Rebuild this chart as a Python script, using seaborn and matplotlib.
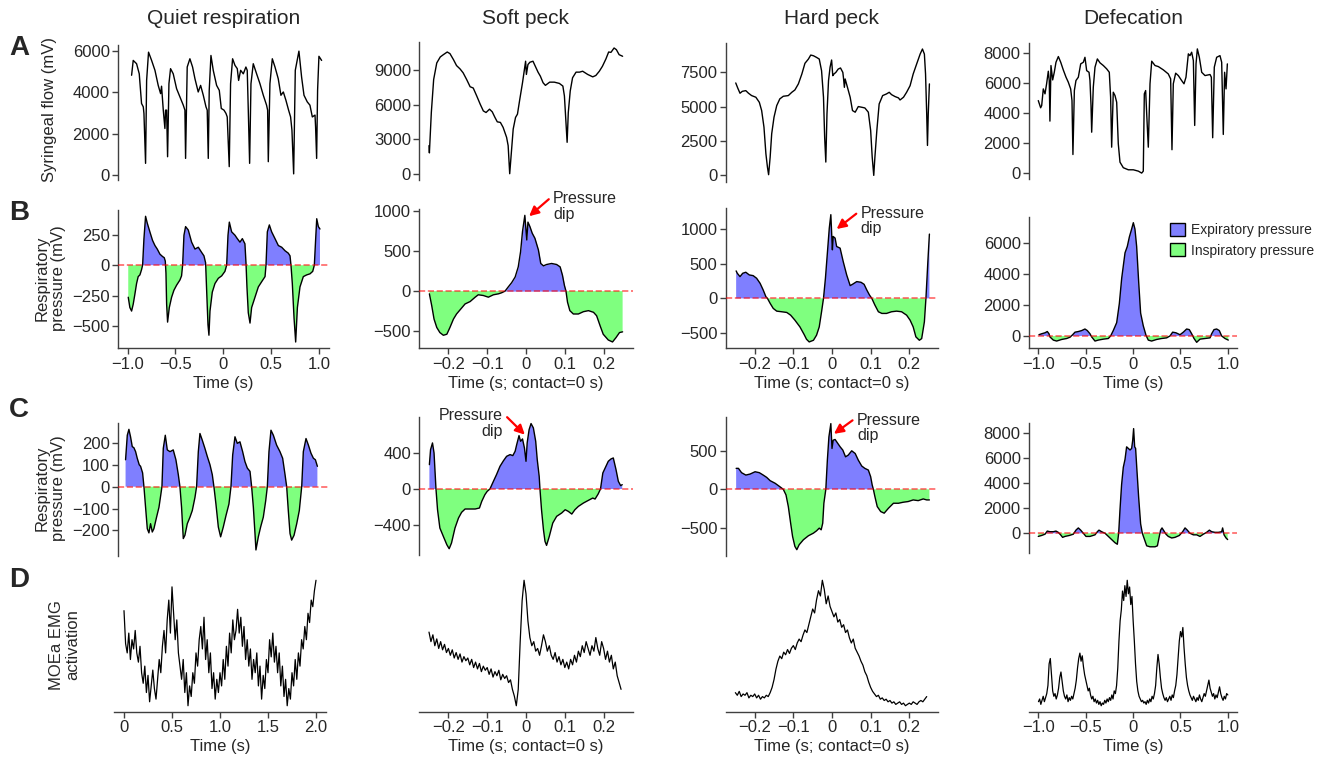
import numpy as np
import matplotlib
matplotlib.use("Agg")
import matplotlib.pyplot as plt
from matplotlib.patches import Patch
import seaborn as sns

# ---------------- data ----------------
# Row A: syringeal flow (mV)
quiet_flow_t = [-0.958, -0.941, -0.906, -0.878, -0.854, -0.836, -0.829, -0.812, -0.801, -0.781, -0.749, -0.714,
                -0.680, -0.655, -0.645, -0.627, -0.610, -0.603, -0.592, -0.582, -0.568, -0.551, -0.523, -0.488,
                -0.453, -0.418, -0.401, -0.394, -0.377, -0.349, -0.321, -0.296, -0.262, -0.237, -0.209, -0.181,
                -0.168, -0.157, -0.147, -0.129, -0.105, -0.070, -0.042, -0.021, 0.007, 0.028, 0.041, 0.062,
                0.076, 0.097, 0.122, 0.146, 0.160, 0.181, 0.209, 0.236, 0.250, 0.261, 0.275, 0.289, 0.313,
                0.348, 0.383, 0.418, 0.452, 0.463, 0.470, 0.487, 0.512, 0.540, 0.574, 0.602, 0.627, 0.654,
                0.682, 0.703, 0.717, 0.735, 0.752, 0.790, 0.818, 0.843, 0.877, 0.905, 0.930, 0.958, 0.964,
                0.975, 0.985, 0.999, 1.027]
quiet_flow_mv = [4830, 5550, 5390, 4900, 3460, 3300, 2980, 560, 4580, 5950, 5550, 5070,
                 4340, 3940, 4300, 3140, 2250, 3140, 3140, 880, 4420, 5150, 4900, 4180,
                 3780, 3380, 3140, 800, 5230, 5630, 5230, 4660, 4020, 4340, 3860, 3300,
                 3140, 800, 4100, 5790, 5070, 4340, 4100, 3220, 3140, 2980, 2810, 400,
                 4420, 5630, 5310, 5150, 4580, 5070, 4900, 5230, 5070, 3140, 560, 4420, 5390,
                 4900, 4420, 3860, 3380, 3140, 640, 4420, 5630, 5230, 4660, 3860, 4020, 3620,
                 3140, 2810, 2170, 50, 5070, 6000, 4740, 3860, 3540, 3380, 2810, 2900, 2330,
                 800, 4100, 5750, 5550]

soft_flow_t = [-0.250, -0.249, -0.244, -0.238, -0.230, -0.221, -0.213, -0.203, -0.196, -0.187, -0.179, -0.170,
               -0.162, -0.153, -0.144, -0.136, -0.127, -0.118, -0.110, -0.103, -0.094, -0.087, -0.080, -0.074,
               -0.066, -0.059, -0.050, -0.046, -0.042, -0.037, -0.033, -0.027, -0.022, -0.016, -0.009, -0.001,
               0.001, 0.005, 0.010, 0.018, 0.024, 0.031, 0.037, 0.044, 0.050, 0.061, 0.073, 0.086, 0.095,
               0.099, 0.103, 0.106, 0.109, 0.114, 0.120, 0.129, 0.138, 0.146, 0.159, 0.172, 0.180, 0.189,
               0.197, 0.206, 0.213, 0.219, 0.227, 0.233, 0.240, 0.249]
soft_flow_mv = [2440, 1810, 5320, 8190, 9630, 10150, 10350, 10580, 10440, 9920, 9400, 9110,
                8770, 8190, 7560, 7450, 6760, 6040, 5460, 5320, 5610, 5380, 4890, 4510,
                4460, 4030, 3160, 2440, 0, 2160, 3880, 4890, 5180, 6470, 7910, 9780,
                8630, 9490, 9690, 9780, 9340, 8830, 8480, 7910, 7680, 7960, 7960, 7850, 7620,
                6760, 4460, 2730, 5320, 7190, 8340, 8830, 8830, 8910, 8630, 8420, 8540, 8910,
                9340, 9980, 10580, 10550, 10930, 10780, 10350, 10210]

hard_flow_t = [-0.249, -0.244, -0.238, -0.232, -0.223, -0.216, -0.208, -0.197, -0.188, -0.182, -0.176, -0.171,
               -0.167, -0.164, -0.160, -0.156, -0.150, -0.143, -0.135, -0.126, -0.113, -0.104, -0.096, -0.087,
               -0.078, -0.070, -0.061, -0.055, -0.048, -0.040, -0.033, -0.027, -0.022, -0.019, -0.016, -0.013,
               -0.009, -0.005, -0.001, 0.002, 0.005, 0.010, 0.016, 0.022, 0.028, 0.030, 0.032, 0.034, 0.040,
               0.047, 0.053, 0.060, 0.068, 0.077, 0.085, 0.094, 0.100, 0.104, 0.108, 0.111, 0.116, 0.122,
               0.131, 0.141, 0.148, 0.154, 0.163, 0.172, 0.176, 0.185, 0.193, 0.202, 0.210, 0.219, 0.228,
               0.234, 0.239, 0.242, 0.245, 0.247, 0.249, 0.252]
hard_flow_mv = [6730, 6370, 5980, 6120, 6170, 5980, 5810, 5690, 5320, 4720, 3510, 1570,
                600, 50, 1330, 3030, 4240, 5080, 5570, 5760, 5810, 6050, 6220, 6660,
                7380, 8160, 8470, 8760, 8710, 8590, 8470, 7620, 5690, 2780, 970, 4480,
                6900, 7870, 8400, 7260, 7380, 7500, 7740, 7820, 7500, 7020, 6410, 7020, 6410,
                5690, 4720, 4600, 5010, 4960, 4910, 4600, 3270, 1330, 0, 1330, 3270, 5200,
                5810, 5930, 6050, 5880, 5740, 5640, 5490, 5690, 6050, 6530, 7380, 8110, 8830,
                9200, 8830, 7380, 4480, 2180, 4480, 6660]

defec_flow_t = [-1.002, -0.977, -0.966, -0.949, -0.931, -0.914, -0.896, -0.886, -0.879, -0.868, -0.850, -0.833,
                -0.815, -0.790, -0.765, -0.738, -0.709, -0.685, -0.660, -0.646, -0.636, -0.621, -0.604, -0.579,
                -0.554, -0.526, -0.509, -0.491, -0.466, -0.456, -0.445, -0.438, -0.421, -0.403, -0.378, -0.350,
                -0.315, -0.280, -0.252, -0.238, -0.227, -0.210, -0.192, -0.174, -0.157, -0.139, -0.104, -0.051,
                0.002, 0.055, 0.090, 0.107, 0.118, 0.132, 0.143, 0.160, 0.178, 0.196, 0.231, 0.266, 0.319,
                0.371, 0.396, 0.410, 0.424, 0.449, 0.477, 0.512, 0.537, 0.558, 0.583, 0.600, 0.618, 0.636,
                0.650, 0.664, 0.678, 0.699, 0.724, 0.759, 0.812, 0.826, 0.840, 0.857, 0.882, 0.917, 0.935,
                0.952, 0.966, 0.981, 0.995]
defec_flow_mv = [4840, 4360, 4510, 5620, 5290, 5960, 6800, 6180, 3470, 7180, 6220, 6730,
                 7400, 7780, 7400, 6890, 6400, 6070, 5620, 4840, 1240, 5510, 6180, 6400,
                 7290, 7400, 7730, 6840, 6730, 6180, 4510, 2730, 5730, 7070, 7620, 7360,
                 7180, 6960, 6730, 5070, 1730, 5400, 5180, 4730, 1960, 730, 360, 220,
                 220, 130, 0, 130, 5290, 5510, 3960, 1730, 5960, 7470, 7180, 7110, 6890,
                 6620, 6290, 1560, 5960, 6670, 6510, 6180, 5960, 6400, 7960, 7840, 8070, 7510,
                 3180, 7290, 8290, 7730, 6730, 6510, 6580, 6400, 2360, 7070, 7730, 7840, 7400,
                 2580, 6730, 5620, 7290]

# Row B: respiratory pressure (mV)
quiet_pb_t = [-0.993, -0.976, -0.958, -0.941, -0.923, -0.906, -0.889, -0.871, -0.854, -0.843, -0.829, -0.812,
              -0.794, -0.767, -0.739, -0.714, -0.690, -0.662, -0.634, -0.617, -0.606, -0.599, -0.592, -0.582,
              -0.564, -0.540, -0.516, -0.488, -0.453, -0.436, -0.425, -0.411, -0.394, -0.366, -0.331, -0.296,
              -0.261, -0.226, -0.202, -0.185, -0.174, -0.160, -0.150, -0.139, -0.115, -0.087, -0.052, -0.017,
              0.017, 0.035, 0.049, 0.063, 0.087, 0.122, 0.146, 0.174, 0.199, 0.226, 0.237, 0.247, 0.261,
              0.279, 0.296, 0.331, 0.366, 0.401, 0.436, 0.446, 0.460, 0.481, 0.505, 0.540, 0.575, 0.610,
              0.645, 0.679, 0.697, 0.707, 0.721, 0.739, 0.756, 0.774, 0.801, 0.836, 0.871, 0.906, 0.934,
              0.951, 0.965, 0.976, 0.993, 1.010]
quiet_pb_mv = [-264, -349, -378, -321, -236, -151, -94, -80, -37, 0, 219, 403,
               346, 275, 204, 162, 133, 91, 71, 62, 34, -65, -321, -469,
               -349, -264, -207, -165, -122, -88, 0, 247, 318, 290, 190, 133,
               148, 105, 77, 20, -207, -491, -577, -378, -222, -151, -108, -88,
               -51, 0, 247, 355, 275, 247, 219, 190, 219, 176, 20, -179, -392,
               -477, -349, -264, -179, -136, -94, 0, 275, 332, 275, 219, 162, 148,
               119, 99, 77, 0, -151, -435, -633, -349, -179, -94, -80, -71, -51,
               0, 219, 383, 318, 298]

soft_pb_t = [-0.249, -0.243, -0.237, -0.230, -0.222, -0.213, -0.204, -0.196, -0.187, -0.179, -0.168, -0.157,
             -0.144, -0.131, -0.123, -0.110, -0.097, -0.084, -0.071, -0.063, -0.054, -0.046, -0.037, -0.028,
             -0.020, -0.014, -0.009, -0.003, 0.002, 0.005, 0.010, 0.016, 0.023, 0.032, 0.038, 0.045, 0.053,
             0.066, 0.079, 0.088, 0.094, 0.099, 0.103, 0.107, 0.113, 0.122, 0.135, 0.148, 0.161, 0.174,
             0.182, 0.191, 0.199, 0.212, 0.223, 0.232, 0.241, 0.249]
soft_pb_mv = [-34, -182, -351, -456, -520, -554, -541, -456, -351, -287, -224, -161,
              -131, -76, -46, -55, -76, -46, -34, -21, 0, 51, 106, 177,
              304, 494, 748, 951, 642, 866, 811, 727, 663, 516, 347, 317, 334,
              347, 334, 304, 199, 72, 0, -139, -245, -287, -287, -258, -245, -266,
              -309, -435, -541, -613, -638, -583, -520, -511]

hard_pb_t = [-0.248, -0.245, -0.238, -0.231, -0.223, -0.214, -0.204, -0.195, -0.186, -0.178, -0.171, -0.167,
             -0.160, -0.152, -0.143, -0.130, -0.117, -0.107, -0.096, -0.083, -0.072, -0.066, -0.059, -0.048,
             -0.040, -0.033, -0.027, -0.022, -0.017, -0.012, -0.007, -0.003, 0.001, 0.003, 0.008, 0.012,
             0.021, 0.029, 0.038, 0.047, 0.053, 0.064, 0.075, 0.083, 0.090, 0.097, 0.103, 0.111, 0.120,
             0.129, 0.141, 0.154, 0.167, 0.180, 0.193, 0.202, 0.210, 0.217, 0.226, 0.232, 0.239, 0.243,
             0.248, 0.252]
hard_pb_mv = [396, 362, 314, 362, 377, 338, 328, 290, 217, 121, 24, 0,
              -72, -145, -184, -193, -203, -242, -314, -411, -522, -589, -628, -604,
              -531, -411, -193, 0, 290, 652, 1014, 1207, 700, 893, 869, 748,
              724, 531, 338, 184, 203, 242, 232, 203, 121, 48, 0, -97, -193,
              -217, -217, -193, -184, -193, -242, -314, -411, -555, -604, -580, -338, 0,
              531, 927]

defec_pb_t = [-0.995, -0.966, -0.931, -0.907, -0.889, -0.879, -0.843, -0.808, -0.755, -0.702, -0.667, -0.639,
              -0.614, -0.579, -0.544, -0.509, -0.484, -0.456, -0.438, -0.403, -0.368, -0.315, -0.262, -0.238,
              -0.210, -0.174, -0.146, -0.121, -0.086, -0.062, -0.040, -0.016, 0.002, 0.019, 0.037, 0.058,
              0.079, 0.107, 0.136, 0.160, 0.195, 0.248, 0.301, 0.354, 0.389, 0.417, 0.452, 0.495, 0.530,
              0.565, 0.593, 0.618, 0.643, 0.671, 0.706, 0.759, 0.812, 0.829, 0.854, 0.882, 0.910, 0.935,
              0.970, 1.005]
defec_pb_mv = [82, 144, 206, 288, 144, -62, -267, -329, -226, -164, -82, 82,
               247, 288, 349, 452, 349, 144, -62, -329, -267, -206, -164, 0,
               349, 863, 2096, 3740, 5384, 5795, 6412, 6925, 7336, 6925, 5795, 3535,
               1480, 658, 41, -267, -329, -226, -164, -123, 0, 247, 206, 82, 247,
               452, 411, 144, -164, -411, -206, -164, -123, 144, 411, 452, 349, 0,
               -164, -267]

# Row C: respiratory pressure, second bird (mV)
quiet_pc_t = [-1.021, -1.003, -0.986, -0.969, -0.951, -0.934, -0.916, -0.899, -0.878, -0.864, -0.843, -0.829,
              -0.812, -0.794, -0.777, -0.760, -0.742, -0.725, -0.697, -0.672, -0.652, -0.641, -0.627, -0.606,
              -0.585, -0.557, -0.523, -0.495, -0.470, -0.453, -0.436, -0.418, -0.401, -0.376, -0.348, -0.324,
              -0.296, -0.279, -0.261, -0.244, -0.220, -0.192, -0.167, -0.139, -0.115, -0.098, -0.077, -0.052,
              -0.028, 0.000, 0.028, 0.059, 0.080, 0.098, 0.122, 0.146, 0.174, 0.202, 0.226, 0.251, 0.279,
              0.296, 0.314, 0.331, 0.341, 0.366, 0.390, 0.418, 0.443, 0.460, 0.477, 0.498, 0.523, 0.557,
              0.592, 0.620, 0.645, 0.662, 0.679, 0.697, 0.714, 0.739, 0.767, 0.794, 0.819, 0.836, 0.864,
              0.889, 0.916, 0.941, 0.962, 0.983]
quiet_pc_mv = [123, 235, 262, 228, 183, 178, 160, 130, 100, 93, 63, 0,
               -94, -192, -211, -169, -207, -192, -139, -94, -34, 0, 175, 235,
               168, 160, 168, 123, 55, 0, -94, -237, -222, -169, -139, -109,
               -49, 0, 160, 243, 213, 175, 138, 100, 55, 0, -79, -184,
               -229, -184, -132, -79, 0, 145, 228, 198, 205, 160, 115, 85, 70,
               0, -94, -214, -289, -229, -184, -139, -64, 0, 160, 258, 235, 190,
               160, 130, 55, 0, -109, -214, -244, -222, -169, -109, 0, 160, 220,
               190, 153, 130, 123, 93]

soft_pc_t = [-0.249, -0.246, -0.241, -0.237, -0.232, -0.228, -0.222, -0.213, -0.204, -0.198, -0.192, -0.183,
             -0.174, -0.166, -0.157, -0.144, -0.131, -0.120, -0.114, -0.106, -0.100, -0.093, -0.084, -0.076,
             -0.067, -0.058, -0.050, -0.041, -0.034, -0.028, -0.024, -0.018, -0.014, -0.009, -0.004, 0.000,
             0.003, 0.008, 0.013, 0.019, 0.025, 0.029, 0.034, 0.036, 0.040, 0.045, 0.049, 0.053, 0.060,
             0.069, 0.079, 0.092, 0.101, 0.109, 0.118, 0.126, 0.135, 0.148, 0.161, 0.172, 0.178, 0.186,
             0.192, 0.198, 0.204, 0.212, 0.219, 0.225, 0.232, 0.238, 0.244, 0.248]
soft_pc_mv = [269, 435, 509, 398, 0, -229, -431, -524, -616, -660, -597, -431,
              -321, -258, -221, -221, -221, -210, -136, -63, -26, 0, 85, 159,
              251, 313, 361, 380, 369, 417, 490, 590, 527, 553, 453, 306,
              509, 656, 723, 675, 527, 324, 140, 0, -229, -450, -579, -623, -524,
              -376, -302, -265, -229, -247, -277, -229, -192, -155, -125, -100, -111, -55,
              0, 177, 232, 306, 332, 343, 214, 85, 37, 48]

hard_pc_t = [-0.248, -0.242, -0.234, -0.223, -0.212, -0.199, -0.188, -0.178, -0.169, -0.160, -0.147, -0.135,
             -0.126, -0.119, -0.113, -0.107, -0.102, -0.096, -0.091, -0.085, -0.074, -0.061, -0.048, -0.040,
             -0.033, -0.028, -0.024, -0.021, -0.016, -0.012, -0.008, -0.003, 0.000, 0.003, 0.008, 0.014,
             0.021, 0.028, 0.035, 0.042, 0.051, 0.060, 0.068, 0.077, 0.085, 0.094, 0.100, 0.104, 0.107,
             0.111, 0.117, 0.126, 0.135, 0.146, 0.159, 0.172, 0.184, 0.197, 0.210, 0.223, 0.236, 0.245,
             0.252]
hard_pc_mv = [272, 272, 216, 185, 198, 228, 216, 185, 155, 112, 78, 34,
              0, -73, -224, -440, -612, -741, -784, -720, -655, -603, -569, -539,
              -504, -526, -440, -181, 0, 379, 681, 853, 530, 638, 647, 603,
              552, 509, 422, 444, 500, 465, 379, 302, 272, 250, 164, 56, 0,
              -95, -224, -289, -310, -246, -181, -181, -168, -159, -138, -147, -125, -138,
              -138]

defec_pc_t = [-1.002, -0.967, -0.931, -0.907, -0.879, -0.843, -0.815, -0.791, -0.766, -0.745, -0.720, -0.674,
              -0.632, -0.604, -0.579, -0.554, -0.526, -0.498, -0.456, -0.403, -0.378, -0.361, -0.333, -0.297,
              -0.262, -0.227, -0.192, -0.167, -0.153, -0.139, -0.122, -0.104, -0.086, -0.069, -0.051, -0.033,
              -0.016, -0.005, 0.005, 0.016, 0.026, 0.037, 0.058, 0.079, 0.097, 0.114, 0.143, 0.178, 0.231,
              0.256, 0.276, 0.290, 0.305, 0.326, 0.347, 0.371, 0.407, 0.442, 0.488, 0.523, 0.548, 0.572,
              0.600, 0.636, 0.671, 0.706, 0.741, 0.776, 0.805, 0.829, 0.864, 0.900, 0.935, 0.945, 0.960,
              0.981, 0.998]
defec_pc_mv = [-252, -176, -75, 176, 126, 126, 176, 75, -126, -327, -252, -176,
               -75, 252, 428, 252, 0, -252, -252, -126, 126, 252, 126, 0,
               -252, -503, -755, -880, 0, 1887, 3900, 5284, 5913, 6919, 6793, 6667,
               6793, 7422, 8378, 6919, 6793, 5409, 2893, 755, 0, -377, -1006, -1082, -1082,
               -1006, -252, 252, 428, 176, -75, -252, -377, -327, -176, 126, 428, 252,
               0, -126, -126, -252, -75, 75, 252, 126, 75, 75, 126, 428, -126,
               -377, -503]

# Row D: MOEa EMG activation (arbitrary units, evenly sampled over each span)
emg_quiet_span = (0.0, 2.0)
emg_quiet = [0.77, 0.52, 0.45, 0.60, 0.40, 0.55, 0.48, 0.62, 0.45, 0.38, 0.50, 0.30,
             0.22, 0.35, 0.15, 0.28, 0.08, 0.20, 0.32, 0.18, 0.10, 0.25, 0.40, 0.30,
             0.50, 0.62, 0.45, 0.70, 0.85, 0.60, 0.95, 0.75, 0.55, 0.70, 0.45, 0.35,
             0.25, 0.40, 0.15, 0.30, 0.05, 0.20, 0.12, 0.30, 0.22, 0.45, 0.35, 0.55,
             0.65, 0.48, 0.72, 0.40, 0.55, 0.30, 0.45, 0.18, 0.30, 0.10, 0.25, 0.15,
             0.30, 0.20, 0.40, 0.25, 0.50, 0.35, 0.60, 0.45, 0.70, 0.55, 0.62, 0.78,
             0.60, 0.72, 0.50, 0.65, 0.40, 0.55, 0.35, 0.48, 0.25, 0.40, 0.30, 0.45,
             0.20, 0.35, 0.10, 0.28, 0.18, 0.40, 0.30, 0.55, 0.42, 0.60, 0.38, 0.50,
             0.30, 0.45, 0.20, 0.35, 0.12, 0.25, 0.05, 0.18, 0.10, 0.30, 0.20, 0.40,
             0.25, 0.45, 0.35, 0.55, 0.48, 0.65, 0.55, 0.75, 0.68, 0.85, 0.80, 0.92, 1.00]
emg_soft_span = (-0.25, 0.245)
emg_soft = [0.62, 0.55, 0.60, 0.52, 0.57, 0.50, 0.55, 0.49, 0.53, 0.47,
            0.50, 0.45, 0.49, 0.43, 0.47, 0.42, 0.46, 0.40, 0.44, 0.41,
            0.43, 0.38, 0.42, 0.36, 0.40, 0.35, 0.39, 0.33, 0.37, 0.34,
            0.36, 0.31, 0.35, 0.29, 0.33, 0.30, 0.34, 0.27, 0.31, 0.28,
            0.30, 0.25, 0.27, 0.20, 0.15, 0.08, 0.20, 0.55, 0.85, 1.00,
            0.90, 0.70, 0.58, 0.52, 0.55, 0.48, 0.50, 0.45, 0.52, 0.60,
            0.55, 0.48, 0.52, 0.45, 0.42, 0.47, 0.40, 0.44, 0.38, 0.42,
            0.36, 0.40, 0.35, 0.42, 0.38, 0.45, 0.40, 0.48, 0.44, 0.52,
            0.47, 0.55, 0.50, 0.45, 0.52, 0.48, 0.58, 0.50, 0.45, 0.55,
            0.50, 0.42, 0.48, 0.40, 0.45, 0.35, 0.40, 0.30, 0.25, 0.20]
emg_hard_span = (-0.25, 0.245)
emg_hard = [0.14, 0.12, 0.15, 0.11, 0.13, 0.12, 0.14, 0.10, 0.12, 0.11,
            0.13, 0.10, 0.12, 0.09, 0.11, 0.10, 0.12, 0.11, 0.14, 0.18,
            0.24, 0.32, 0.38, 0.42, 0.40, 0.45, 0.43, 0.47, 0.44, 0.48,
            0.50, 0.47, 0.52, 0.55, 0.53, 0.58, 0.62, 0.60, 0.66, 0.72,
            0.78, 0.75, 0.85, 0.92, 0.88, 1.00, 0.93, 0.82, 0.88, 0.80,
            0.76, 0.72, 0.75, 0.68, 0.70, 0.64, 0.66, 0.60, 0.62, 0.56,
            0.52, 0.55, 0.48, 0.45, 0.42, 0.38, 0.35, 0.30, 0.27, 0.22,
            0.18, 0.15, 0.13, 0.11, 0.12, 0.09, 0.10, 0.08, 0.09, 0.07,
            0.08, 0.06, 0.07, 0.05, 0.06, 0.07, 0.05, 0.06, 0.04, 0.05,
            0.06, 0.05, 0.07, 0.06, 0.05, 0.07, 0.08, 0.07, 0.09, 0.11]
emg_defec_span = (-1.0, 1.0)
emg_defec = [0.10, 0.12, 0.08, 0.11, 0.14, 0.10, 0.13, 0.16, 0.22, 0.38,
             0.42, 0.30, 0.18, 0.14, 0.16, 0.12, 0.15, 0.20, 0.28, 0.32,
             0.25, 0.18, 0.14, 0.12, 0.15, 0.10, 0.13, 0.11, 0.14, 0.12,
             0.16, 0.20, 0.26, 0.35, 0.42, 0.46, 0.40, 0.44, 0.36, 0.30,
             0.26, 0.22, 0.18, 0.20, 0.15, 0.12, 0.14, 0.10, 0.12, 0.09,
             0.11, 0.08, 0.10, 0.07, 0.09, 0.08, 0.11, 0.09, 0.12, 0.10,
             0.13, 0.11, 0.15, 0.12, 0.18, 0.16, 0.22, 0.35, 0.55, 0.70,
             0.78, 0.92, 0.85, 0.96, 0.88, 1.00, 0.90, 0.95, 0.82, 0.88,
             0.70, 0.55, 0.38, 0.25, 0.18, 0.14, 0.12, 0.10, 0.11, 0.09,
             0.10, 0.08, 0.11, 0.09, 0.12, 0.10, 0.14, 0.12, 0.16, 0.22,
             0.35, 0.45, 0.38, 0.28, 0.20, 0.16, 0.13, 0.11, 0.13, 0.10,
             0.12, 0.14, 0.11, 0.15, 0.13, 0.18, 0.22, 0.30, 0.42, 0.55,
             0.62, 0.58, 0.65, 0.50, 0.38, 0.28, 0.22, 0.18, 0.15, 0.13,
             0.11, 0.14, 0.12, 0.10, 0.13, 0.11, 0.15, 0.12, 0.10, 0.13,
             0.16, 0.14, 0.18, 0.22, 0.26, 0.20, 0.17, 0.14, 0.16, 0.12,
             0.15, 0.13, 0.17, 0.21, 0.16, 0.13, 0.11, 0.14, 0.12, 0.16, 0.15]

col_titles = ["Quiet respiration", "Soft peck", "Hard peck", "Defecation"]
flow_yticks = [[0, 2000, 4000, 6000], [0, 3000, 6000, 9000], [0, 2500, 5000, 7500], [0, 2000, 4000, 6000, 8000]]
pb_yticks = [[-500, -250, 0, 250], [-500, 0, 500, 1000], [-500, 0, 500, 1000], [0, 2000, 4000, 6000]]
pc_yticks = [[-200, -100, 0, 100, 200], [-400, 0, 400], [-500, 0, 500], [0, 2000, 4000, 6000, 8000]]
long_xticks = [-1.0, -0.5, 0, 0.5, 1.0]
peck_xticks = [-0.2, -0.1, 0, 0.1, 0.2]
quiet_emg_xticks = [0, 0.5, 1.0, 1.5, 2.0]

# arrow tips of the "Pressure dip" labels (time s, pressure mV)
dip_soft_b = (0.008, 940)
dip_hard_b = (0.012, 1000)
dip_soft_c = (-0.003, 600)
dip_hard_c = (0.005, 720)

# ---------------- style ----------------
sns.set_style("ticks")
plt.rcParams["font.family"] = ["Liberation Sans", "DejaVu Sans"]
plt.rcParams["axes.unicode_minus"] = True

W, H = 1317, 764
fig = plt.figure(figsize=(W / 100, H / 100), dpi=100)


def px_axes(left, top, right, bottom):
    return fig.add_axes([left / W, 1 - bottom / H, (right - left) / W, (bottom - top) / H])


def fmt(v):
    if v == 0:
        s = "0"
    elif isinstance(v, float):
        s = f"{v:.1f}"
    else:
        s = f"{v:d}"
    return s.replace("-", "\u2212")


def style_axes(ax, left=True, bottom=False):
    sns.despine(ax=ax, left=not left, bottom=not bottom)
    for sp in ax.spines.values():
        sp.set_color("0.25")
        sp.set_linewidth(1.0)
    ax.tick_params(length=4, width=1, color="0.25", labelsize=12, pad=2)
    if not bottom:
        ax.set_xticks([])
    if not left:
        ax.set_yticks([])
    ax.set_xlabel("")
    ax.set_ylabel("")


def set_ticks(ax, xt=None, yt=None):
    if xt is not None:
        ax.set_xticks(xt)
        ax.set_xticklabels([fmt(v) for v in xt])
    if yt is not None:
        ax.set_yticks(yt)
        ax.set_yticklabels([fmt(v) for v in yt])


def draw_pressure(ax, t, v):
    t = np.asarray(t, float)
    v = np.asarray(v, float)
    ax.fill_between(t, v, 0, where=v >= 0, interpolate=True, color="blue", alpha=0.5, lw=0)
    ax.fill_between(t, v, 0, where=v <= 0, interpolate=True, color="lime", alpha=0.5, lw=0)
    sns.lineplot(x=t, y=v, ax=ax, color="black", lw=1.0, sort=False, estimator=None)
    ax.axhline(0, color="red", ls="--", lw=1.2, alpha=0.6, zorder=3)


# column geometry in pixels (left, right) and x-limits
cols_lr = [(118, 328.6), (419.3, 632.7), (725.7, 938.3), (1029, 1237.3)]
xlims = [(-1.1, 1.1), (-0.275, 0.275), (-0.275, 0.275), (-1.1, 1.1)]
row_a_tb = [(45, 180), (41.7, 180), (42.7, 181.7), (42.7, 179.3)]
row_b_tb = [(210, 348.3), (209, 348.3), (208.3, 348.3), (216.7, 348.3)]
row_c_tb = [(423.3, 556), (417.3, 555), (417.3, 556), (422.7, 552.7)]
row_d_tb = (574, 712)

flows = [(quiet_flow_t, quiet_flow_mv), (soft_flow_t, soft_flow_mv),
         (hard_flow_t, hard_flow_mv), (defec_flow_t, defec_flow_mv)]
press_b = [(quiet_pb_t, quiet_pb_mv), (soft_pb_t, soft_pb_mv),
           (hard_pb_t, hard_pb_mv), (defec_pb_t, defec_pb_mv)]
press_c = [(quiet_pc_t, quiet_pc_mv), (soft_pc_t, soft_pc_mv),
           (hard_pc_t, hard_pc_mv), (defec_pc_t, defec_pc_mv)]
emgs = [(emg_quiet_span, emg_quiet), (emg_soft_span, emg_soft),
        (emg_hard_span, emg_hard), (emg_defec_span, emg_defec)]

axes_b, axes_c = [], []
for i in range(4):
    l, r = cols_lr[i]
    # column title
    fig.text((l + r) / 2 / W, 1 - 18 / H, col_titles[i], ha="center", va="center", fontsize=15)

    # Row A
    ax = px_axes(l, row_a_tb[i][0], r, row_a_tb[i][1])
    t, v = flows[i]
    sns.lineplot(x=t, y=v, ax=ax, color="black", lw=1.0, sort=False, estimator=None)
    ax.set_xlim(*xlims[i])
    style_axes(ax, left=True, bottom=False)
    set_ticks(ax, yt=flow_yticks[i])

    # Row B
    ax = px_axes(l, row_b_tb[i][0], r, row_b_tb[i][1])
    draw_pressure(ax, *press_b[i])
    ax.set_xlim(*xlims[i])
    style_axes(ax, left=True, bottom=True)
    set_ticks(ax, xt=peck_xticks if i in (1, 2) else long_xticks, yt=pb_yticks[i])
    ax.set_xlabel("Time (s; contact=0 s)" if i in (1, 2) else "Time (s)", fontsize=12, labelpad=3)
    axes_b.append(ax)

    # Row C
    ax = px_axes(l, row_c_tb[i][0], r, row_c_tb[i][1])
    draw_pressure(ax, *press_c[i])
    ax.set_xlim(*xlims[i])
    style_axes(ax, left=True, bottom=False)
    set_ticks(ax, yt=pc_yticks[i])
    axes_c.append(ax)

    # Row D
    span, vals = emgs[i]
    if i == 0:
        l, r = 114.4, 325.6
    ax = px_axes(l, row_d_tb[0], r, row_d_tb[1])
    td = np.linspace(span[0], span[1], len(vals))
    sns.lineplot(x=td, y=vals, ax=ax, color="black", lw=0.9, sort=False, estimator=None)
    ax.set_xlim(-0.1, 2.1) if i == 0 else ax.set_xlim(*xlims[i])
    style_axes(ax, left=False, bottom=True)
    set_ticks(ax, xt=quiet_emg_xticks if i == 0 else (peck_xticks if i in (1, 2) else long_xticks))
    ax.set_xlabel("Time (s; contact=0 s)" if i in (1, 2) else "Time (s)", fontsize=12, labelpad=3)

# pressure-dip annotations
arrow = dict(arrowstyle="-|>", color="red", lw=1.6, mutation_scale=14, shrinkA=1, shrinkB=0)
for ax, tip, off, ha, rel in [(axes_b[1], dip_soft_b, (24, 10), "left", (0, 0.85)),
                              (axes_b[2], dip_hard_b, (24, 8), "left", (0, 0.85)),
                              (axes_c[1], dip_soft_c, (-22, 11), "right", (1, 0.85)),
                              (axes_c[2], dip_hard_c, (23, 6), "left", (0, 0.85))]:
    ax.annotate("Pressure\ndip", xy=tip, xycoords="data", xytext=off, textcoords="offset pixels",
                ha=ha, va="center", fontsize=11.5, linespacing=1.05,
                arrowprops=dict(arrow, relpos=rel))

# legend in the defecation pressure panel
handles = [Patch(facecolor=(0.5, 0.5, 1.0), edgecolor="black", label="Expiratory pressure"),
           Patch(facecolor=(0.5, 1.0, 0.5), edgecolor="black", label="Inspiratory pressure")]
axes_b[3].legend(handles=handles, loc="upper left", bbox_to_anchor=(1163 / W, 1 - 216 / H),
                 bbox_transform=fig.transFigure, frameon=False, fontsize=10, borderpad=0,
                 handlelength=1.05, handleheight=1.05, handletextpad=0.45, labelspacing=0.45)

# row labels
fig.text(50 / W, 1 - 110 / H, "Syringeal flow (mV)", rotation=90, ha="center", va="center", fontsize=12)
fig.text(50 / W, 1 - 278 / H, "Respiratory\npressure (mV)", rotation=90, ha="center", va="center",
         fontsize=12, linespacing=1.1)
fig.text(50 / W, 1 - 488 / H, "Respiratory\npressure (mV)", rotation=90, ha="center", va="center",
         fontsize=12, linespacing=1.1)
fig.text(65 / W, 1 - 645 / H, "MOEa EMG\nactivation", rotation=90, ha="center", va="center",
         fontsize=12, linespacing=1.1)

# panel letters
for letter, y in [("A", 48), ("B", 213), ("C", 410), ("D", 580)]:
    fig.text(9 / W, 1 - y / H, letter, fontsize=20, fontweight="bold", ha="left", va="center")

fig.savefig("out.png", dpi=100)
